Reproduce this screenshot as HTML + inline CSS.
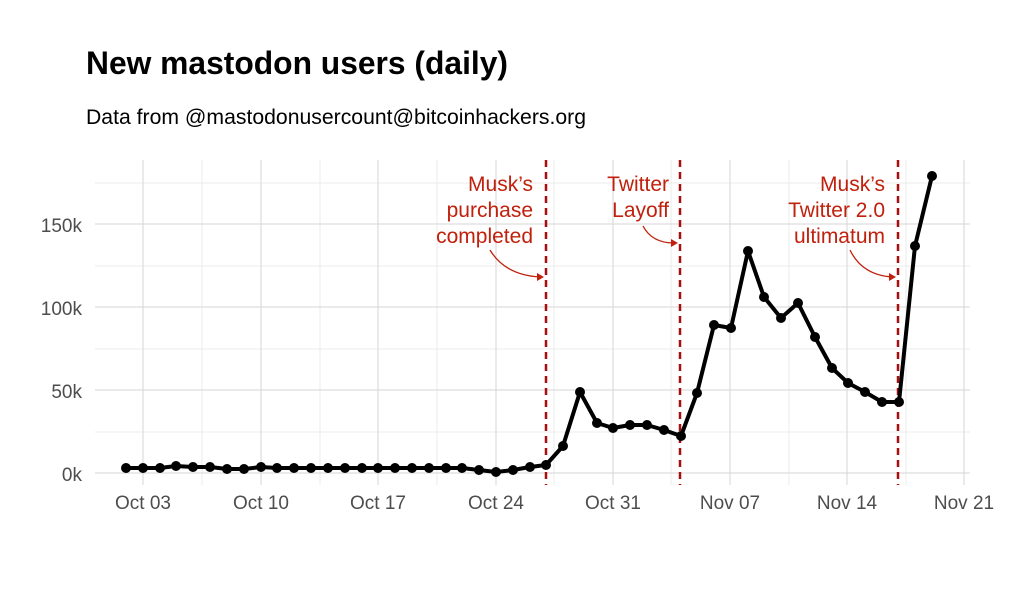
<!DOCTYPE html>
<html><head><meta charset="utf-8"><style>
body{margin:0;background:#fff;}
svg text{font-family:"Liberation Sans",sans-serif;}
</style></head><body>
<svg width="1024" height="608" viewBox="0 0 1024 608" xmlns="http://www.w3.org/2000/svg">
<rect width="1024" height="608" fill="#fff"/>
<text x="86" y="74" font-size="32" font-weight="bold" fill="#000" textLength="422" lengthAdjust="spacingAndGlyphs">New mastodon users (daily)</text>
<text x="86" y="124" font-size="21" fill="#000" textLength="500" lengthAdjust="spacingAndGlyphs">Data from @mastodonusercount@bitcoinhackers.org</text>
<g stroke="#ebebeb" stroke-width="1">
<line x1="95" y1="432" x2="970" y2="432"/><line x1="95" y1="349" x2="970" y2="349"/><line x1="95" y1="266" x2="970" y2="266"/><line x1="95" y1="183" x2="970" y2="183"/>
<line x1="202" y1="160" x2="202" y2="485"/><line x1="320" y1="160" x2="320" y2="485"/><line x1="437" y1="160" x2="437" y2="485"/><line x1="554" y1="160" x2="554" y2="485"/><line x1="671" y1="160" x2="671" y2="485"/><line x1="789" y1="160" x2="789" y2="485"/><line x1="906" y1="160" x2="906" y2="485"/>
</g>
<g stroke="#d6d6d6" stroke-width="1">
<line x1="95" y1="473" x2="970" y2="473"/><line x1="95" y1="390" x2="970" y2="390"/><line x1="95" y1="307" x2="970" y2="307"/><line x1="95" y1="224" x2="970" y2="224"/>
<line x1="143" y1="160" x2="143" y2="485"/><line x1="261" y1="160" x2="261" y2="485"/><line x1="378" y1="160" x2="378" y2="485"/><line x1="496" y1="160" x2="496" y2="485"/><line x1="613" y1="160" x2="613" y2="485"/><line x1="730" y1="160" x2="730" y2="485"/><line x1="847" y1="160" x2="847" y2="485"/><line x1="964" y1="160" x2="964" y2="485"/>
</g>
<g font-size="19" fill="#4d4d4d" text-anchor="end">
<text x="82" y="481">0k</text><text x="82" y="398">50k</text><text x="82" y="315">100k</text><text x="82" y="232">150k</text>
</g>
<g font-size="19" fill="#4d4d4d" text-anchor="middle">
<text x="143" y="509">Oct 03</text><text x="261" y="509">Oct 10</text><text x="378" y="509">Oct 17</text><text x="496" y="509">Oct 24</text><text x="613" y="509">Oct 31</text><text x="730" y="509">Nov 07</text><text x="847" y="509">Nov 14</text><text x="964" y="509">Nov 21</text>
</g>
<g stroke="#a50f0f" stroke-width="2.5" stroke-dasharray="7,5">
<line x1="546" y1="160" x2="546" y2="485"/><line x1="680" y1="160" x2="680" y2="485"/><line x1="898" y1="160" x2="898" y2="485"/>
</g>
<g font-size="21" fill="#c0200c" text-anchor="end">
<text x="533" y="191">Musk’s</text><text x="533" y="217">purchase</text><text x="533" y="243">completed</text>
<text x="669" y="191">Twitter</text><text x="669" y="217">Layoff</text>
<text x="885" y="191">Musk’s</text><text x="885" y="217">Twitter 2.0</text><text x="885" y="243">ultimatum</text>
</g>
<g stroke="#c0200c" stroke-width="1.3" fill="none">
<path d="M490,250 Q505,275 540,277"/><path d="M643,226 Q652,243 674,243"/><path d="M850,250 Q862,275 892,277"/>
</g>
<g fill="#c0200c"><path d="M544,277 l-7,-4 l0,8z"/><path d="M678,243 l-7,-4 l0,8z"/><path d="M896,277 l-7,-4 l0,8z"/></g>
<polyline fill="none" stroke="#000" stroke-width="4" stroke-linejoin="round" points="126,468 143,468 160,468 176,466 193,467 210,467 227,469 244,469 261,467 277,468 294,468 311,468 328,468 345,468 362,468 378,468 395,468 412,468 429,468 446,468 462,468 479,470 496,472 513,470 530,467 546,465 563,446 580,392 597,423 613,428 630,425 647,425 664,430 681,436 697,393 714,325 731,328 748,251 764,297 781,318 798,303 815,337 832,368 848,383 865,392 882,402 899,402 915,246 932,176"/>
<g fill="#000">
<circle cx="126" cy="468" r="5"/><circle cx="143" cy="468" r="5"/><circle cx="160" cy="468" r="5"/><circle cx="176" cy="466" r="5"/><circle cx="193" cy="467" r="5"/><circle cx="210" cy="467" r="5"/><circle cx="227" cy="469" r="5"/><circle cx="244" cy="469" r="5"/><circle cx="261" cy="467" r="5"/><circle cx="277" cy="468" r="5"/><circle cx="294" cy="468" r="5"/><circle cx="311" cy="468" r="5"/><circle cx="328" cy="468" r="5"/><circle cx="345" cy="468" r="5"/><circle cx="362" cy="468" r="5"/><circle cx="378" cy="468" r="5"/><circle cx="395" cy="468" r="5"/><circle cx="412" cy="468" r="5"/><circle cx="429" cy="468" r="5"/><circle cx="446" cy="468" r="5"/><circle cx="462" cy="468" r="5"/><circle cx="479" cy="470" r="5"/><circle cx="496" cy="472" r="5"/><circle cx="513" cy="470" r="5"/><circle cx="530" cy="467" r="5"/><circle cx="546" cy="465" r="5"/><circle cx="563" cy="446" r="5"/><circle cx="580" cy="392" r="5"/><circle cx="597" cy="423" r="5"/><circle cx="613" cy="428" r="5"/><circle cx="630" cy="425" r="5"/><circle cx="647" cy="425" r="5"/><circle cx="664" cy="430" r="5"/><circle cx="681" cy="436" r="5"/><circle cx="697" cy="393" r="5"/><circle cx="714" cy="325" r="5"/><circle cx="731" cy="328" r="5"/><circle cx="748" cy="251" r="5"/><circle cx="764" cy="297" r="5"/><circle cx="781" cy="318" r="5"/><circle cx="798" cy="303" r="5"/><circle cx="815" cy="337" r="5"/><circle cx="832" cy="368" r="5"/><circle cx="848" cy="383" r="5"/><circle cx="865" cy="392" r="5"/><circle cx="882" cy="402" r="5"/><circle cx="899" cy="402" r="5"/><circle cx="915" cy="246" r="5"/><circle cx="932" cy="176" r="5"/>
</g>
</svg>
</body></html>
